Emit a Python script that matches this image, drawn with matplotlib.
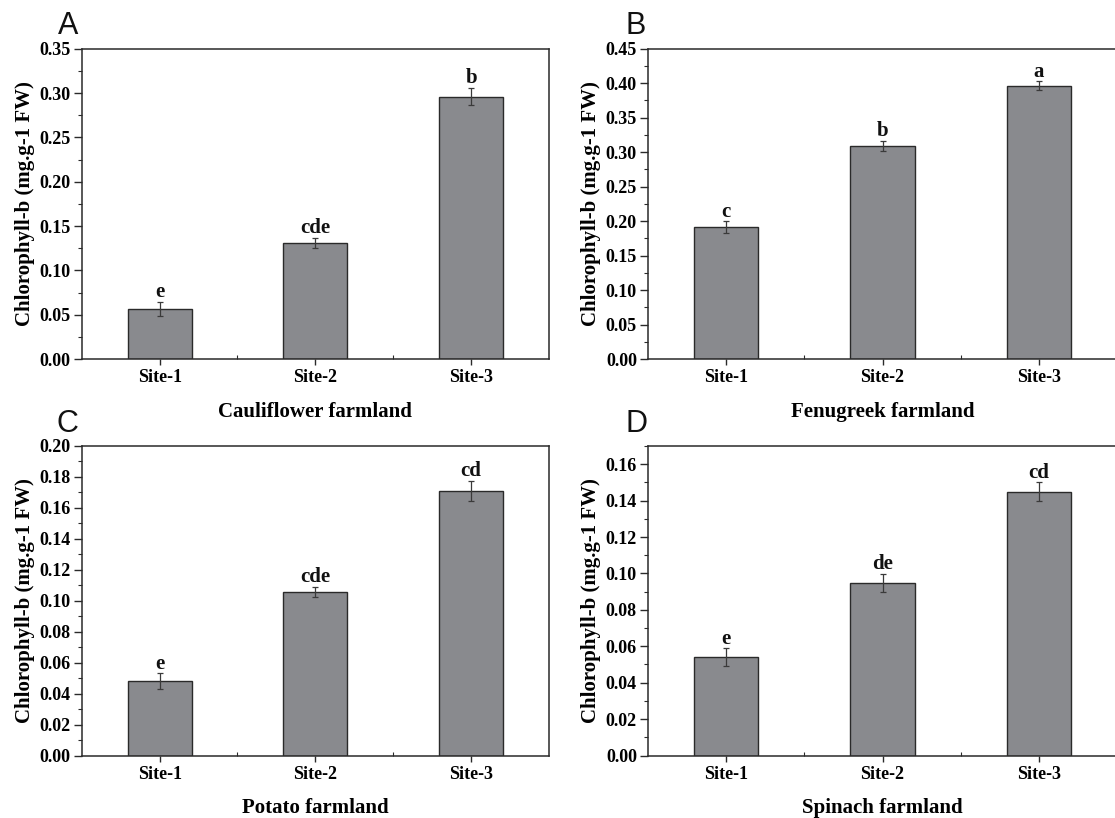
import matplotlib
matplotlib.use("Agg")
import matplotlib.pyplot as plt
from matplotlib.ticker import MultipleLocator, FormatStrFormatter, FixedLocator

sites = ["Site-1", "Site-2", "Site-3"]

panel_letters = ["A", "B", "C", "D"]
farmlands = ["Cauliflower farmland", "Fenugreek farmland", "Potato farmland", "Spinach farmland"]

vals_A = [0.056, 0.131, 0.296]
err_A = [0.008, 0.006, 0.010]
sig_A = ["e", "cde", "b"]

vals_B = [0.191, 0.309, 0.396]
err_B = [0.0085, 0.0075, 0.0065]
sig_B = ["c", "b", "a"]

vals_C = [0.048, 0.1055, 0.171]
err_C = [0.005, 0.0033, 0.0064]
sig_C = ["e", "cde", "cd"]

vals_D = [0.054, 0.0948, 0.145]
err_D = [0.0048, 0.005, 0.005]
sig_D = ["e", "de", "cd"]

ylims = [(0, 0.35), (0, 0.45), (0, 0.20), (0, 0.17)]
ymajor = [0.05, 0.05, 0.02, 0.02]
yminor = [0.025, 0.025, 0.01, 0.01]

W, H = 1115, 818
fig = plt.figure(figsize=(W / 100, H / 100), dpi=100)

serif = "Liberation Serif"
sans = "Liberation Sans"

# axes rects in pixels: left, top, right, bottom
rects = [
    (81.7, 48.7, 549, 359),
    (648, 48.7, 1117, 359),
    (81.7, 445.7, 549, 755.5),
    (648, 446, 1117, 755.5),
]
label_pos = [(58, 34), (626, 34), (57, 432), (626, 432)]

data = [(vals_A, err_A, sig_A), (vals_B, err_B, sig_B), (vals_C, err_C, sig_C), (vals_D, err_D, sig_D)]

for i, (l, t, r, b) in enumerate(rects):
    ax = fig.add_axes([l / W, 1 - b / H, (r - l) / W, (b - t) / H])
    vals, errs, sigs = data[i]
    x = list(range(1, len(sites) + 1))
    ax.bar(x, vals, width=0.41, color="#898a8e", edgecolor="#2a2a2a", linewidth=1.0, zorder=2)
    ax.errorbar(x, vals, yerr=errs, fmt="none", ecolor="#3a3a3a", elinewidth=0.9,
                capsize=2.5, capthick=0.9, zorder=3)
    for xi, v, e, s in zip(x, vals, errs, sigs):
        ax.annotate(s, (xi, v + e), xytext=(0, 3.5), textcoords="offset points",
                    ha="center", va="baseline", fontsize=15, fontweight="bold",
                    family=serif, color="#111111")
    ax.set_xlim(0.5, 3.5)
    ax.set_ylim(*ylims[i])
    ax.set_xticks(x)
    ax.set_xticklabels(sites)
    ax.xaxis.set_minor_locator(FixedLocator([1.5, 2.5]))
    ax.yaxis.set_major_locator(MultipleLocator(ymajor[i]))
    ax.yaxis.set_minor_locator(MultipleLocator(yminor[i]))
    ax.yaxis.set_major_formatter(FormatStrFormatter("%.2f"))
    ax.tick_params(axis="both", which="major", direction="out", length=5.5, width=1.0,
                   color="#2a2a2a", pad=2.5)
    ax.tick_params(axis="x", which="major", length=4, pad=3.5)
    ax.tick_params(axis="both", which="minor", direction="out", length=3, width=0.8, color="#2a2a2a")
    ax.tick_params(axis="x", which="minor", direction="in", length=3)
    for lab in ax.get_yticklabels():
        lab.set_fontfamily(serif)
        lab.set_fontweight("bold")
        lab.set_fontsize(13)
    for lab in ax.get_xticklabels():
        lab.set_fontfamily(serif)
        lab.set_fontweight("bold")
        lab.set_fontsize(13)
    for sp in ax.spines.values():
        sp.set_linewidth(1.1)
        sp.set_color("#2a2a2a")
    ax.set_ylabel("Chlorophyll-b (mg.g-1 FW)", family=serif, fontweight="bold", fontsize=15, labelpad=3)
    ax.set_xlabel(farmlands[i], family=serif, fontweight="bold", fontsize=15, labelpad=11)
    lx, ly = label_pos[i]
    fig.text(lx / W, 1 - ly / H, panel_letters[i], family=sans, fontsize=22,
             ha="left", va="baseline", color="#111111")

fig.savefig("out.png", dpi=100)
